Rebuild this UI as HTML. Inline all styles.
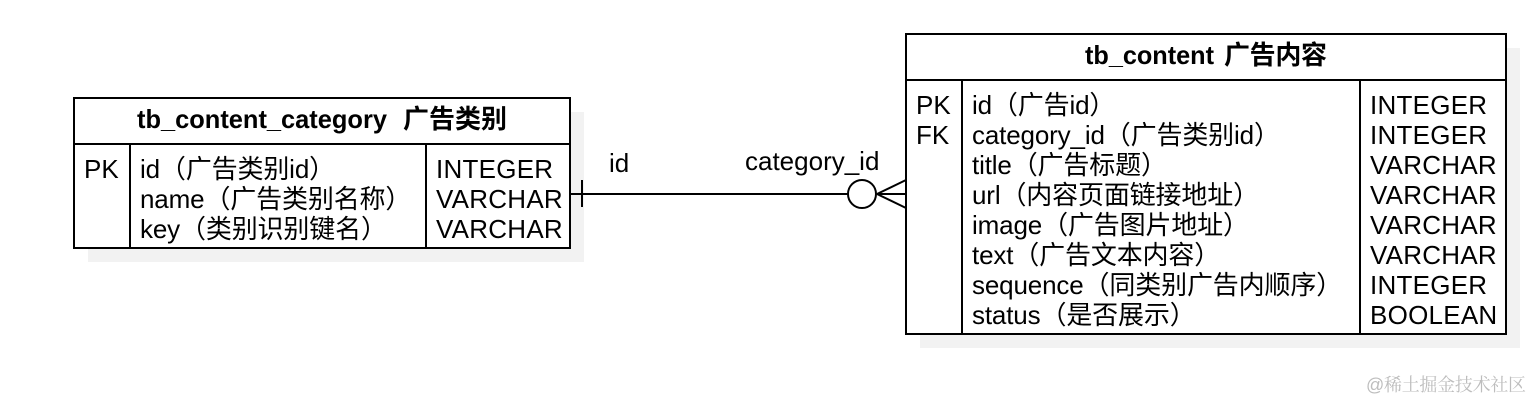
<!DOCTYPE html>
<html>
<head>
<meta charset="utf-8">
<style>
html,body{margin:0;padding:0;background:#fff;width:1532px;height:400px;overflow:hidden}
svg{display:block}
text{font-family:"Liberation Sans","Noto Sans CJK SC",sans-serif;font-size:26px;fill:#000}
.b{font-weight:bold}
.t{letter-spacing:.25px}
.n{letter-spacing:-.15px}
</style>
</head>
<body>
<svg width="1532" height="400" viewBox="0 0 1532 400" xmlns="http://www.w3.org/2000/svg">
<rect x="88" y="112" width="496" height="150" fill="#f2f2f2"/>
<rect x="920" y="48" width="600" height="300" fill="#f2f2f2"/>

<g fill="#fff" stroke="#000" stroke-width="2">
<rect x="74" y="98" width="496" height="150"/>
<rect x="906" y="34" width="600" height="300"/>
</g>
<g stroke="#000" stroke-width="2" fill="none">
<path d="M74 144H570M130 144V248M426 144V248"/>
<path d="M906 80H1506M962 80V334M1360 80V334"/>
<path d="M570 194H848M582 180V207"/>
<circle cx="862" cy="194" r="14" fill="#fff"/>
<path d="M877 194L906 180M877 194H906M877 194L906 208"/>
</g>

<text class="b" x="137" y="128" textLength="250" lengthAdjust="spacingAndGlyphs">tb_content_category</text>
<text class="b" x="403" y="128" textLength="104">广告类别</text>
<text x="84" y="178">PK</text>
<text class="n" x="140" y="178">id（广告类别id）</text>
<text class="n" x="140" y="208">name（广告类别名称）</text>
<text class="n" x="140" y="238">key（类别识别键名）</text>
<text class="t" x="436" y="178">INTEGER</text>
<text class="t" x="436" y="208">VARCHAR</text>
<text class="t" x="436" y="238">VARCHAR</text>

<text x="609" y="172">id</text>
<text x="745" y="170">category_id</text>

<text class="b" x="1085" y="64" textLength="129" lengthAdjust="spacingAndGlyphs">tb_content</text>
<text class="b" x="1224" y="64" textLength="103">广告内容</text>
<text x="916" y="114">PK</text>
<text x="916" y="144">FK</text>
<text class="n" x="972" y="114">id（广告id）</text>
<text class="n" x="972" y="144">category_id（广告类别id）</text>
<text class="n" x="972" y="174">title（广告标题）</text>
<text class="n" x="972" y="204">url（内容页面链接地址）</text>
<text class="n" x="972" y="234">image（广告图片地址）</text>
<text class="n" x="972" y="264">text（广告文本内容）</text>
<text class="n" x="972" y="294">sequence（同类别广告内顺序）</text>
<text class="n" x="972" y="324">status（是否展示）</text>
<text class="t" x="1370" y="114">INTEGER</text>
<text class="t" x="1370" y="144">INTEGER</text>
<text class="t" x="1370" y="174">VARCHAR</text>
<text class="t" x="1370" y="204">VARCHAR</text>
<text class="t" x="1370" y="234">VARCHAR</text>
<text class="t" x="1370" y="264">VARCHAR</text>
<text class="t" x="1370" y="294">INTEGER</text>
<text class="t" x="1370" y="324">BOOLEAN</text>

<text x="1366" y="391" textLength="160" style="font-size:18px;fill:#bdbdbd;font-family:'Liberation Sans','Noto Serif CJK SC',serif">@稀土掘金技术社区</text>
</svg>
</body>
</html>
